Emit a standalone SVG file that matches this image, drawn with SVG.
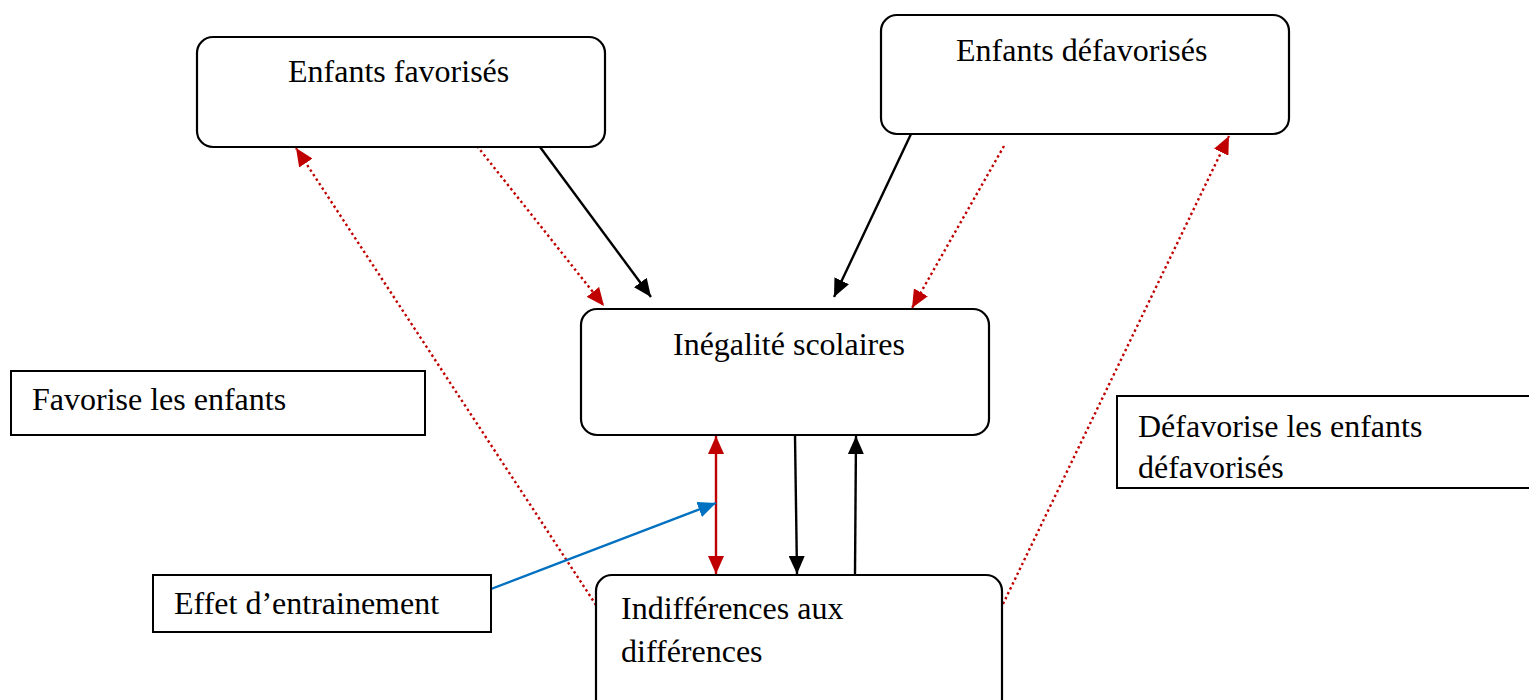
<svg xmlns="http://www.w3.org/2000/svg" width="1529" height="700" viewBox="0 0 1529 700">
<style>
.box{fill:#fff;stroke:#000;stroke-width:2.2}
.lbl{fill:#fff;stroke:#000;stroke-width:2}
text{font-family:"Liberation Serif","Times New Roman",serif;font-size:32px;fill:#000}
.blk{stroke:#000;stroke-width:2.4;fill:none}
.red{stroke:#C00000;stroke-width:2.4;fill:none}
.dot{stroke:#C00000;stroke-width:2.4;fill:none;stroke-dasharray:2.4 3}
.blu{stroke:#0070C0;stroke-width:2.4;fill:none}
</style>
<defs>
<marker id="ab" markerUnits="userSpaceOnUse" markerWidth="20" markerHeight="16" refX="18" refY="8" orient="auto"><path d="M0,0 L18,8 L0,16 Z" fill="#000"/></marker>
<marker id="ar" markerUnits="userSpaceOnUse" markerWidth="20" markerHeight="16" refX="18" refY="8" orient="auto"><path d="M0,0 L18,8 L0,16 Z" fill="#C00000"/></marker>
<marker id="ars" markerUnits="userSpaceOnUse" markerWidth="20" markerHeight="16" refX="0" refY="8" orient="auto"><path d="M18,0 L0,8 L18,16 Z" fill="#C00000"/></marker>
<marker id="au" markerUnits="userSpaceOnUse" markerWidth="20" markerHeight="16" refX="18" refY="8" orient="auto"><path d="M0,0 L18,8 L0,16 Z" fill="#0070C0"/></marker>
</defs>
<rect width="1529" height="700" fill="#fff"/>
<g id="connectors">
<line class="blk" x1="540" y1="147" x2="651" y2="297" marker-end="url(#ab)"/>
<line class="blk" x1="911" y1="134" x2="834" y2="297" marker-end="url(#ab)"/>
<line class="dot" x1="477" y1="146" x2="604" y2="306" marker-end="url(#ar)"/>
<line class="dot" x1="1004" y1="146" x2="912" y2="308" marker-end="url(#ar)"/>
<line class="dot" x1="596" y1="605" x2="296" y2="148" marker-end="url(#ar)"/>
<line class="dot" x1="1003" y1="604" x2="1229" y2="136" marker-end="url(#ar)"/>
<line class="red" x1="716" y1="436" x2="716" y2="574" marker-start="url(#ars)" marker-end="url(#ar)"/>
<line class="blk" x1="795" y1="436" x2="797" y2="574" marker-end="url(#ab)"/>
<line class="blk" x1="855" y1="574" x2="856" y2="436" marker-end="url(#ab)"/>
<line class="blu" x1="491" y1="589" x2="716" y2="503" marker-end="url(#au)"/>
</g>
<g id="n-favorises">
<rect class="box" x="197" y="37" width="408" height="110" rx="16"/>
<text x="288" y="82">Enfants favorisés</text>
</g>
<g id="n-defavorises">
<rect class="box" x="881" y="15" width="408" height="119" rx="16"/>
<text x="956" y="61">Enfants défavorisés</text>
</g>
<g id="n-inegalite">
<rect class="box" x="581" y="309" width="408" height="126" rx="16"/>
<text x="673" y="355">Inégalité scolaires</text>
</g>
<g id="n-indifference">
<rect class="box" x="596" y="575" width="406" height="140" rx="16"/>
<text x="621" y="619">Indifférences aux</text>
<text x="621" y="662">différences</text>
</g>
<g id="l-favorise">
<rect class="lbl" x="11" y="371" width="414" height="64"/>
<text x="32" y="410">Favorise les enfants</text>
</g>
<g id="l-defavorise">
<rect class="lbl" x="1117" y="396" width="420" height="92"/>
<text x="1138" y="437">Défavorise les enfants</text>
<text x="1138" y="478">défavorisés</text>
</g>
<g id="l-effet">
<rect class="lbl" x="153" y="575" width="338" height="57"/>
<text x="174" y="614">Effet d’entrainement</text>
</g>
</svg>
